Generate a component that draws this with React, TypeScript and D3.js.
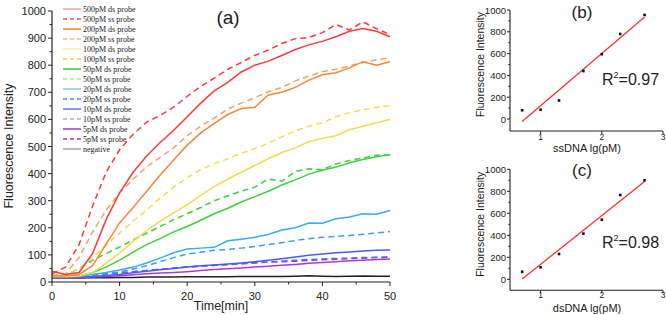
import React from "react";
import * as d3 from "d3";

const times = [0, 2, 4, 6, 8, 10, 12, 14, 16, 18, 20, 22, 24, 26, 28, 30, 32, 34, 36, 38, 40, 42, 44, 46, 48, 50];

const ds500 = [40, 28, 35, 105, 230, 329, 405, 465, 515, 560, 610, 660, 705, 737, 775, 800, 815, 836, 858, 875, 888, 905, 925, 935, 925, 905];
const ss500 = [30, 55, 138, 280, 405, 488, 545, 590, 615, 645, 685, 722, 752, 785, 810, 836, 856, 880, 898, 902, 920, 950, 930, 960, 935, 913];
const ds200 = [22, 22, 28, 60, 140, 218, 275, 335, 395, 450, 505, 550, 585, 618, 640, 645, 690, 700, 718, 745, 765, 772, 790, 813, 800, 813];
const ss200 = [25, 30, 90, 185, 265, 329, 380, 425, 460, 495, 540, 575, 605, 638, 660, 680, 702, 718, 742, 760, 776, 785, 797, 810, 820, 828];
const ds100 = [20, 20, 22, 35, 70, 107, 150, 190, 225, 255, 285, 320, 352, 380, 405, 430, 455, 478, 495, 518, 530, 540, 562, 575, 588, 600];
const ss100 = [22, 25, 50, 90, 135, 181, 225, 265, 310, 350, 385, 415, 437, 455, 475, 492, 512, 536, 558, 575, 588, 610, 625, 635, 645, 651];
const ds50 = [18, 18, 22, 35, 55, 81, 110, 138, 160, 185, 205, 228, 252, 272, 295, 315, 335, 358, 377, 398, 412, 424, 440, 452, 462, 470];
const ss50 = [20, 25, 50, 80, 105, 129, 155, 180, 205, 230, 252, 275, 300, 318, 335, 350, 380, 372, 408, 418, 414, 436, 448, 458, 468, 469];
const ds20 = [18, 18, 20, 28, 35, 44, 55, 70, 88, 108, 122, 125, 128, 152, 158, 165, 175, 192, 200, 218, 217, 233, 240, 252, 250, 264];
const ss20 = [20, 20, 22, 25, 30, 37, 48, 60, 75, 90, 103, 110, 117, 120, 125, 131, 138, 145, 153, 160, 165, 168, 172, 176, 181, 186];
const ds10 = [15, 16, 18, 20, 24, 28, 34, 40, 45, 50, 55, 60, 63, 66, 70, 75, 80, 86, 92, 99, 103, 108, 111, 114, 117, 118];
const ss10 = [18, 18, 20, 24, 28, 33, 38, 42, 47, 51, 55, 59, 62, 65, 68, 71, 74, 77, 80, 83, 85, 87, 88, 90, 91, 92];
const ds5 = [15, 15, 16, 18, 20, 23, 27, 30, 33, 35, 38, 42, 46, 49, 52, 55, 58, 62, 65, 69, 72, 75, 78, 80, 83, 85];
const ss5 = [22, 22, 24, 27, 30, 33, 38, 42, 47, 51, 55, 58, 61, 64, 67, 70, 73, 75, 77, 80, 82, 84, 86, 88, 90, 92];
const negative = [15, 15, 15, 16, 16, 17, 17, 18, 18, 18, 19, 19, 19, 19, 20, 20, 20, 20, 21, 23, 21, 20, 21, 22, 21, 21];

const seriesLabels = [
  "500pM ds probe", "500pM ss probe", "200pM ds probe", "200pM ss probe",
  "100pM ds probe", "100pM ss probe", "50pM ds probe", "50pM ss probe",
  "20pM ds probe", "20pM ss probe", "10pM ds probe", "10pM ss probe",
  "5pM ds probe", "5pM ss probe", "negative",
];
const seriesValues = [ds500, ss500, ds200, ss200, ds100, ss100, ds50, ss50, ds20, ss20, ds10, ss10, ds5, ss5, negative];
const seriesColors = [
  "#ff3a3a", "#ff3a3a", "#f5873d", "#f7a060", "#f2da50", "#ede050", "#3dd13d", "#3dd13d",
  "#3aa9ff", "#3a9cff", "#4a5aff", "#5566ff", "#b038d8", "#a038d8", "#222222",
];
const legendColors = [
  "#f7a3a3", "#ff4a4a", "#f5873d", "#f7b98a", "#f8eeb0", "#e8d840", "#3dd13d", "#a8eca8",
  "#86ccff", "#3a9cff", "#6f7cff", "#a8b0ff", "#b040e0", "#a038d8", "#aaaaaa",
];
const seriesDashed = [false, true, false, true, false, true, false, true, false, true, false, true, false, true, false];

const yTicksMain = [0, 100, 200, 300, 400, 500, 600, 700, 800, 900, 1000];
const xTicksMain = [0, 10, 20, 30, 40, 50];

const lgConc = [0.699, 1, 1.301, 1.699, 2, 2.301, 2.699];
const ssIntensity = [80, 85, 170, 440, 595, 780, 955];
const dsIntensity = [69, 109, 230, 415, 542, 766, 900];
const subYTicks = [0, 200, 400, 600, 800, 1000];
const subXTicks = [1, 2, 3];

const SANS = "'Liberation Sans', Arial, sans-serif";
const SERIF = "'Liberation Serif', 'Times New Roman', serif";
const AX = "#222";

function fit(xs: number[], ys: number[]) {
  const mx = d3.mean(xs)!;
  const my = d3.mean(ys)!;
  let sxy = 0, sxx = 0;
  xs.forEach((x, i) => { sxy += (x - mx) * (ys[i] - my); sxx += (x - mx) * (x - mx); });
  const b = sxy / sxx;
  return { b, a: my - b * mx };
}

function MainChart() {
  const x = d3.scaleLinear().domain([0, 50]).range([52, 390]);
  const y = d3.scaleLinear().domain([0, 1000]).range([282, 11]);
  const line = d3.line<number>().x((_, i) => x(times[i])).y((v) => y(v));
  const minorY = d3.range(50, 1000, 100);
  const minorX = d3.range(5, 50, 10);
  return (
    <g>
      {seriesValues.map((vals, i) => (
        <path key={i} d={line(vals) || ""} fill="none" stroke={seriesColors[i]} strokeWidth={1.5}
          strokeDasharray={seriesDashed[i] ? "6,4" : undefined} />
      )).reverse()}
      <line x1={x(0)} x2={x(0)} y1={y(1000)} y2={y(0)} stroke={AX} strokeWidth={1.2} />
      <line x1={x(0)} x2={x(50)} y1={y(0)} y2={y(0)} stroke={AX} strokeWidth={1.2} />
      {yTicksMain.map((t) => (
        <g key={"y" + t}>
          <line x1={x(0) - 4} x2={x(0)} y1={y(t)} y2={y(t)} stroke={AX} />
          <text x={x(0) - 6} y={y(t) + 4} textAnchor="end" fontFamily={SANS} fontSize={11} fill="#222">{t}</text>
        </g>
      ))}
      {minorY.map((t) => (
        <line key={"my" + t} x1={x(0) - 2.5} x2={x(0)} y1={y(t)} y2={y(t)} stroke={AX} />
      ))}
      {xTicksMain.map((t) => (
        <g key={"x" + t}>
          <line x1={x(t)} x2={x(t)} y1={y(0)} y2={y(0) + 4} stroke={AX} />
          <text x={x(t)} y={300} textAnchor="middle" fontFamily={SANS} fontSize={11} fill="#222">{t}</text>
        </g>
      ))}
      {minorX.map((t) => (
        <line key={"mx" + t} x1={x(t)} x2={x(t)} y1={y(0)} y2={y(0) + 2.5} stroke={AX} />
      ))}
      <text x={221} y={310} textAnchor="middle" fontFamily={SANS} fontSize={12.5} fill="#222">Time[min]</text>
      <text transform="translate(13,146) rotate(-90)" textAnchor="middle" fontFamily={SANS} fontSize={12.5} fill="#222">Fluorescence Intensity</text>
      <text x={228} y={24} textAnchor="middle" fontFamily={SANS} fontSize={19} fill="#222">(a)</text>
      {seriesLabels.map((lab, i) => {
        const ly = 9 + i * 10;
        return (
          <g key={"lg" + i}>
            <line x1={63} x2={81} y1={ly} y2={ly} stroke={legendColors[i]} strokeWidth={1.6}
              strokeDasharray={seriesDashed[i] ? "4,3" : undefined} />
            <text x={83} y={ly + 3} fontFamily={SERIF} fontSize={8} fill="#222">{lab}</text>
          </g>
        );
      })}
    </g>
  );
}

function SubChart({ top, zeroY, axisY, vals, title, xlabel, r2, titleY, r2Y, xlabelY, tickDy }:
  { top: number; zeroY: number; axisY: number; vals: number[]; title: string; xlabel: string; r2: string; titleY: number; r2Y: number; xlabelY: number; tickDy: number }) {
  const x = d3.scaleLinear().domain([0.5, 3]).range([510, 663]);
  const y = d3.scaleLinear().domain([0, 1000]).range([zeroY, top]);
  const { a, b } = fit(lgConc, vals);
  const x0 = lgConc[0], x1 = lgConc[lgConc.length - 1];
  const minor = d3.range(100, 1000, 200);
  return (
    <g>
      <line x1={x(x0)} x2={x(x1)} y1={y(a + b * x0)} y2={y(a + b * x1)} stroke="#ff3030" strokeWidth={1.3} />
      {vals.map((v, i) => (
        <rect key={i} x={x(lgConc[i]) - 1.3} y={y(v) - 1.3} width={2.6} height={2.6} fill="#111" />
      ))}
      <line x1={510} x2={510} y1={y(1000)} y2={axisY} stroke={AX} strokeWidth={1.1} />
      <line x1={510} x2={x(3)} y1={axisY} y2={axisY} stroke={AX} strokeWidth={1.1} />
      {subYTicks.map((t) => (
        <g key={t}>
          <line x1={507} x2={510} y1={y(t)} y2={y(t)} stroke={AX} />
          <text x={506} y={y(t) + 3.5} textAnchor="end" fontFamily={SANS} fontSize={9.5} fill="#222">{t}</text>
        </g>
      ))}
      {minor.map((t) => (
        <line key={"m" + t} x1={508.3} x2={510} y1={y(t)} y2={y(t)} stroke={AX} />
      ))}
      {subXTicks.map((t) => (
        <g key={"x" + t}>
          <line x1={x(t)} x2={x(t)} y1={axisY} y2={axisY + 3} stroke={AX} />
          <text x={x(t)} y={axisY + tickDy} textAnchor="middle" fontFamily={SANS} fontSize={8.5} fill="#222">{t}</text>
        </g>
      ))}
      <text x={587} y={xlabelY} textAnchor="middle" fontFamily={SANS} fontSize={11} fill="#222">{xlabel}</text>
      <text transform={`translate(484,${(top + zeroY) / 2}) rotate(-90)`} textAnchor="middle" fontFamily={SANS} fontSize={10.5} fill="#222">Fluorescence Intensity</text>
      <text x={582} y={titleY} textAnchor="middle" fontFamily={SANS} fontSize={17} fill="#222">{title}</text>
      <text x={602} y={r2Y} fontFamily={SANS} fontSize={16} fill="#222">R<tspan fontSize={9} dy={-7}>2</tspan><tspan dy={7}>={r2}</tspan></text>
    </g>
  );
}

export default function App() {
  return (
    <svg width={666} height={315} style={{ position: "absolute", left: 0, top: 0, background: "#fff" }}>
      <MainChart />
      <SubChart top={10} zeroY={119} axisY={131} vals={ssIntensity} title="(b)" xlabel="ssDNA lg(pM)" r2="0.97" titleY={18} r2Y={85} xlabelY={151.5} tickDy={9} />
      <SubChart top={169.3} zeroY={279.3} axisY={290.2} vals={dsIntensity} title="(c)" xlabel="dsDNA lg(pM)" r2="0.98" titleY={176} r2Y={248} xlabelY={311.5} tickDy={8} />
    </svg>
  );
}
